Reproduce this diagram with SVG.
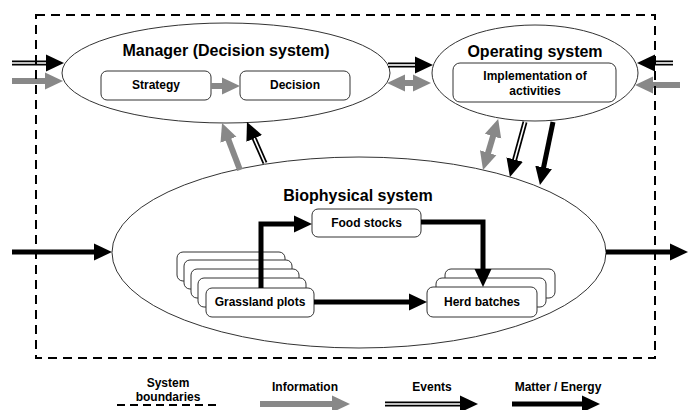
<svg xmlns="http://www.w3.org/2000/svg" width="689" height="410" viewBox="0 0 689 410">
<style>
text{font-family:"Liberation Sans",Arial,sans-serif;font-weight:bold;fill:#000;text-anchor:middle}
.title{font-size:16px}
.lbl{font-size:12px}
.ell{fill:#fff;stroke:#333;stroke-width:1}
.box{fill:#fff;stroke:#333;stroke-width:1}
.info{fill:none;stroke:#888;stroke-width:6}
.ev{fill:none;stroke:#000;stroke-width:5}
.evin{fill:none;stroke:#fff;stroke-width:1.6}
.mat{fill:none;stroke:#000;stroke-width:5;stroke-linejoin:miter}
.bound{fill:none;stroke:#000;stroke-width:2;stroke-dasharray:9 6}
</style>
<defs>
<marker id="hg" markerUnits="userSpaceOnUse" markerWidth="18" markerHeight="18" refX="3" refY="8.5" orient="auto-start-reverse" viewBox="0 0 18 17">
<path d="M0,0 L18,8.5 L0,17 z" fill="#888"/>
</marker>
<marker id="hb" markerUnits="userSpaceOnUse" markerWidth="18" markerHeight="18" refX="3" refY="8.5" orient="auto-start-reverse" viewBox="0 0 18 17">
<path d="M0,0 L18,8.5 L0,17 z" fill="#000"/>
</marker>
</defs>
<rect width="689" height="410" fill="#fff"/>

<g id="manager">
<ellipse class="ell" cx="226" cy="73" rx="164" ry="50"/>
<text class="title" x="226" y="56">Manager (Decision system)</text>
</g>
<g id="strategy">
<rect class="box" x="101" y="71" width="110" height="29" rx="6"/>
<text class="lbl" x="156" y="89">Strategy</text>
</g>
<g id="decision">
<rect class="box" x="240" y="71" width="110" height="29" rx="6"/>
<text class="lbl" x="295" y="89">Decision</text>
</g>
<g id="operating">
<ellipse class="ell" cx="535" cy="73" rx="103" ry="48"/>
<text class="title" x="535" y="57">Operating system</text>
</g>
<g id="implementation">
<rect class="box" x="453" y="63" width="163" height="39" rx="7"/>
<text class="lbl" x="535" y="80">Implementation of</text>
<text class="lbl" x="535" y="95">activities</text>
</g>
<g id="biophysical">
<ellipse class="ell" cx="359" cy="252.5" rx="247" ry="95.5"/>
<text class="title" x="358" y="201">Biophysical system</text>
</g>
<g id="food">
<rect class="box" x="312" y="209" width="109" height="28" rx="6"/>
<text class="lbl" x="366.5" y="227">Food stocks</text>
</g>
<g id="grassland">
<rect class="box" x="177" y="252" width="108" height="29" rx="6"/>
<rect class="box" x="184" y="260" width="108" height="29" rx="6"/>
<rect class="box" x="191" y="269" width="108" height="29" rx="6"/>
<rect class="box" x="198" y="278" width="108" height="29" rx="6"/>
<rect class="box" x="206" y="288" width="108" height="29" rx="6"/>
<text class="lbl" x="260" y="306">Grassland plots</text>
</g>
<g id="herd">
<rect class="box" x="445" y="269" width="110" height="29" rx="6"/>
<rect class="box" x="436" y="278" width="110" height="29" rx="6"/>
<rect class="box" x="427" y="287" width="110" height="30" rx="6"/>
<text class="lbl" x="482" y="306">Herd batches</text>
</g>

<g id="connectors">
<!-- left inputs to manager -->
<path class="ev" d="M12,63 H49"/>
<path class="evin" d="M12,63 H49" marker-end="url(#hb)"/>
<path class="info" d="M12,81 H48" marker-end="url(#hg)"/>
<!-- strategy to decision -->
<path class="info" d="M211,86 H225" marker-end="url(#hg)"/>
<!-- manager to operating -->
<path class="ev" d="M388,65 H418"/>
<path class="evin" d="M388,65 H418" marker-end="url(#hb)"/>
<path class="info" d="M402,83 H416" marker-start="url(#hg)" marker-end="url(#hg)"/>
<!-- right inputs to operating -->
<path class="ev" d="M673,63 H652"/>
<path class="evin" d="M673,63 H652" marker-end="url(#hb)"/>
<path class="info" d="M680,85 H650" marker-end="url(#hg)"/>
<!-- biophysical to manager -->
<path class="info" d="M240,170 L227.4,137" marker-end="url(#hg)"/>
<path class="ev" d="M265,163 L253,135.7"/>
<path class="evin" d="M265,163 L253,135.7" marker-end="url(#hb)"/>
<!-- operating to biophysical -->
<path class="info" d="M493.9,133.4 L487.3,155.6" marker-start="url(#hg)" marker-end="url(#hg)"/>
<path class="ev" d="M525,122 L513.9,162.5"/>
<path class="evin" d="M525,122 L513.9,162.5" marker-end="url(#hb)"/>
<path class="mat" d="M553,122 L543,170.3" marker-end="url(#hb)"/>
<!-- biophysical in/out -->
<path class="mat" d="M12,252 H97" marker-end="url(#hb)"/>
<path class="mat" d="M606,252 H673" marker-end="url(#hb)"/>
<!-- inside biophysical -->
<path class="mat" d="M261,288 V224 H297" marker-end="url(#hb)"/>
<path class="mat" d="M421,222 H483 V272" marker-end="url(#hb)"/>
<path class="mat" d="M314,302 H412" marker-end="url(#hb)"/>
</g>

<g id="boundary">
<rect class="bound" x="36" y="15" width="619" height="343"/>
</g>

<g id="legend">
<text class="lbl" x="168" y="387">System</text>
<text class="lbl" x="168" y="401">boundaries</text>
<path d="M117,405 H218" stroke="#000" stroke-width="2" stroke-dasharray="8 5" fill="none"/>
<text class="lbl" x="305" y="391">Information</text>
<path class="info" d="M260,404 H335" marker-end="url(#hg)"/>
<text class="lbl" x="432" y="391">Events</text>
<path class="ev" d="M385,404 H463"/>
<path class="evin" d="M385,404 H463" marker-end="url(#hb)"/>
<text class="lbl" x="558" y="391">Matter / Energy</text>
<path class="mat" d="M512,404 H585" marker-end="url(#hb)"/>
</g>
</svg>
